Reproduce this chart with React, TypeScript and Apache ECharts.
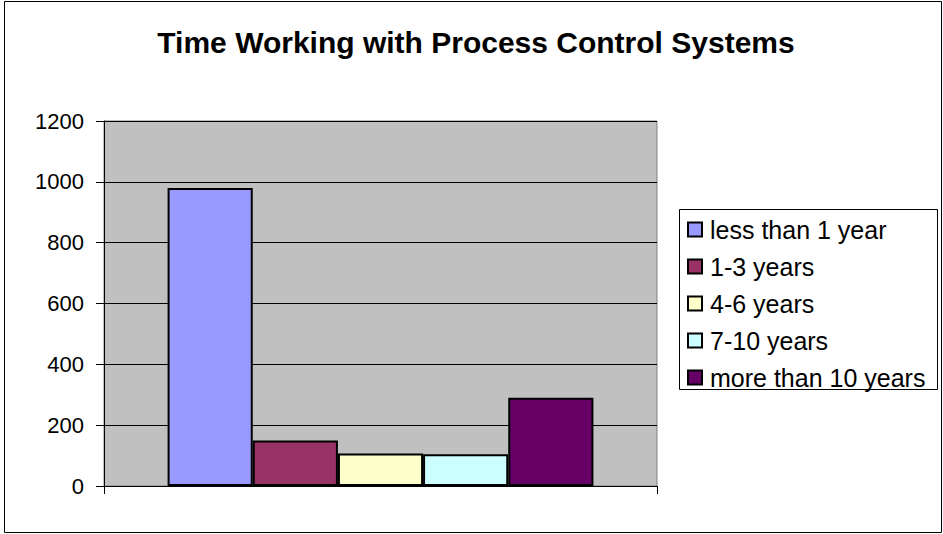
import React, { useEffect, useRef } from "react";
import * as echarts from "echarts";

const titleText = "Time Working with Process Control Systems";
const categories = [""];
const seriesNames = ["less than 1 year", "1-3 years", "4-6 years", "7-10 years", "more than 10 years"];
const seriesValues = [980, 150, 107, 104, 290];
const seriesColors = ["#9999FF", "#993366", "#FFFFCC", "#CCFFFF", "#660066"];
const yTicks = { min: 0, max: 1200, interval: 200 };

const FONT = "'Liberation Sans', Arial, Helvetica, sans-serif";

export default function App() {
  const ref = useRef<HTMLDivElement>(null);
  useEffect(() => {
    if (!ref.current) return;
    const chart = echarts.init(ref.current, undefined, { renderer: "svg" });
    const rich: Record<string, any> = {
      t: { fontSize: 25, color: "#000", fontFamily: FONT, verticalAlign: "middle", padding: [0, 0, 0, 9] },
    };
    seriesColors.forEach((c, i) => {
      rich["b" + i] = {
        width: 12,
        height: 12,
        backgroundColor: c,
        borderColor: "#000",
        borderWidth: 2,
        verticalAlign: "middle",
      };
    });
    chart.setOption({
      animation: false,
      backgroundColor: "#FFFFFF",
      textStyle: { fontFamily: FONT },
      grid: {
        left: 104,
        top: 121,
        right: 286,
        bottom: 48,
        show: true,
        backgroundColor: "#C0C0C0",
        borderColor: "#808080",
        borderWidth: 1,
        containLabel: false,
      },
      legend: {
        orient: "vertical",
        left: 683,
        top: 217,
        padding: 0,
        itemWidth: 0,
        itemHeight: 0,
        itemGap: 12,
        icon: "rect",
        data: seriesNames,
        itemStyle: { opacity: 0 },
        formatter: (name: string) => `{b${seriesNames.indexOf(name)}|}{t|${name}}`,
        textStyle: { fontSize: 25, color: "#000", fontFamily: FONT, rich },
      },
      xAxis: {
        type: "category",
        data: categories,
        axisLine: { show: true, lineStyle: { color: "#000", width: 1 } },
        axisTick: { show: true, length: 8, lineStyle: { color: "#000" } },
        axisLabel: { show: false },
        splitLine: { show: false },
      },
      yAxis: {
        type: "value",
        min: yTicks.min,
        max: yTicks.max,
        interval: yTicks.interval,
        axisLine: { show: true, lineStyle: { color: "#000", width: 1 } },
        axisTick: { show: true, length: 8, lineStyle: { color: "#000" } },
        axisLabel: {
          fontSize: 22,
          color: "#000",
          margin: 20,
          fontFamily: FONT,
          formatter: (v: number) => String(v),
        },
        splitLine: { show: true, lineStyle: { color: "#000", width: 1 } },
      },
      series: seriesNames.map((name, i) => ({
        name,
        type: "bar",
        data: [seriesValues[i]],
        barGap: "0%",
        barCategoryGap: "23%",
        itemStyle: { color: seriesColors[i], borderColor: "#000", borderWidth: 2 },
      })),
      graphic: [
        {
          type: "rect",
          shape: { x: 4.5, y: 1.5, width: 937, height: 531 },
          style: { fill: "none", stroke: "#000", lineWidth: 1 },
          silent: true,
          z: -1,
        },
        {
          type: "rect",
          shape: { x: 679.5, y: 209.5, width: 258, height: 180 },
          style: { fill: "#FFFFFF", stroke: "#000", lineWidth: 1 },
          silent: true,
          z: -1,
        },
        {
          type: "text",
          x: 476,
          y: 27,
          style: {
            text: titleText,
            font: `bold 30px ${FONT}`,
            fill: "#000",
            textAlign: "center",
            textVerticalAlign: "top",
          },
        },
      ],
    });
    return () => chart.dispose();
  }, []);
  return (
    <div
      ref={ref}
      style={{ position: "fixed", left: 0, top: 0, width: 943, height: 534 }}
    />
  );
}
